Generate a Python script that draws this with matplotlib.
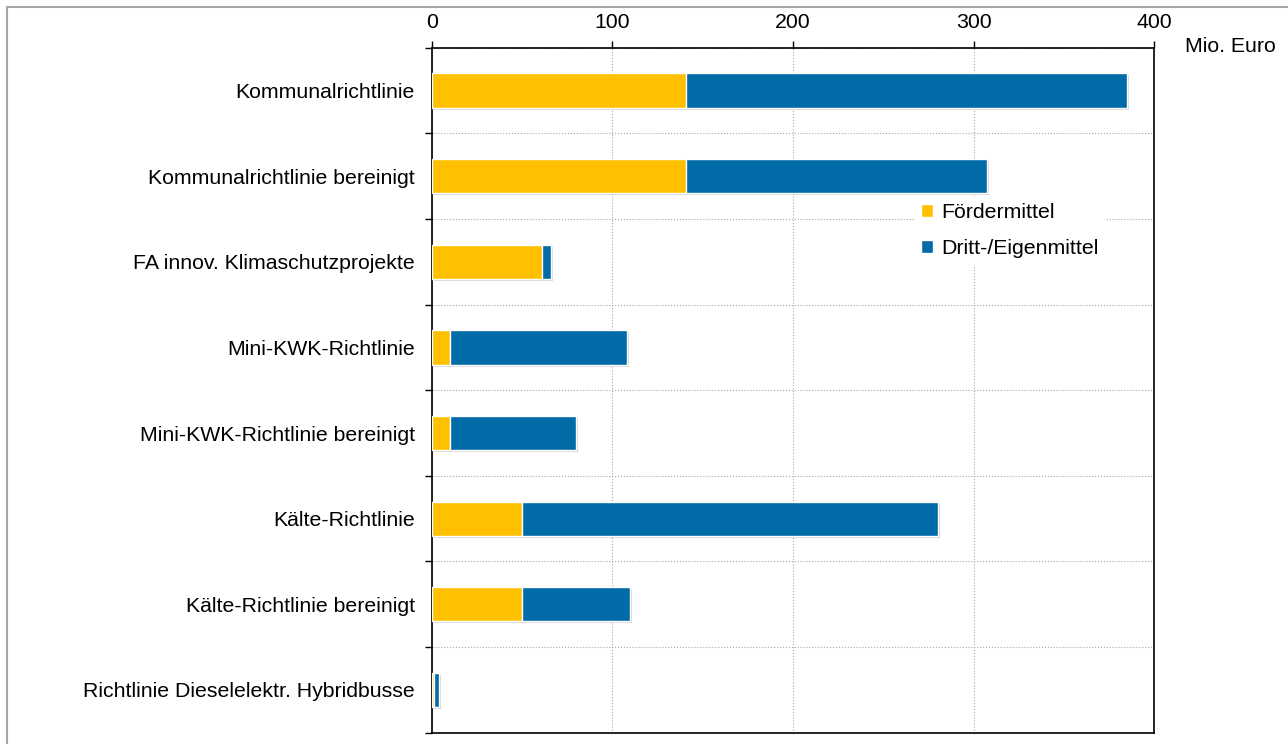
import matplotlib
matplotlib.use("Agg")
import matplotlib.pyplot as plt
import matplotlib.patheffects as pe
from matplotlib.patches import Rectangle

plt.rcParams['font.family'] = ['Liberation Sans', 'DejaVu Sans']

categories = [
    "Kommunalrichtlinie",
    "Kommunalrichtlinie bereinigt",
    "FA innov. Klimaschutzprojekte",
    "Mini-KWK-Richtlinie",
    "Mini-KWK-Richtlinie bereinigt",
    "Kälte-Richtlinie",
    "Kälte-Richtlinie bereinigt",
    "Richtlinie Dieselelektr. Hybridbusse",
]
foerdermittel = [140.5, 140.5, 61, 10, 10, 50, 50, 1.2]
eigenmittel = [244.5, 167, 5, 98, 70, 230, 59.5, 2.8]
x_ticks = [0, 100, 200, 300, 400]

yellow = "#FFC000"
blue = "#006BA6"
fs = 15.3

fig = plt.figure(figsize=(12.88, 7.44), dpi=100)
ax = fig.add_axes([0.3352, 0.0152, 0.561, 0.9207])

# outer frame
fig.patches.append(Rectangle((7 / 1288, -0.1), 1.2, 1.1 - 7 / 744,
                             transform=fig.transFigure, fill=False,
                             edgecolor="#A6A6A6", linewidth=1.5, zorder=0))

y = list(range(len(categories)))
shadow = [pe.SimplePatchShadow(offset=(1.5, -1.5), shadow_rgbFace="#BBBBBB", alpha=0.6), pe.Normal()]
b1 = ax.barh(y, foerdermittel, height=0.4, color=yellow, edgecolor="white",
             linewidth=1, label="Fördermittel", zorder=3)
b2 = ax.barh(y, eigenmittel, left=foerdermittel, height=0.4, color=blue,
             edgecolor="white", linewidth=1, label="Dritt-/Eigenmittel", zorder=3)
for bar in list(b1) + list(b2):
    bar.set_path_effects(shadow)

ax.set_ylim(len(categories) - 0.5, -0.5)
ax.set_xlim(0, 400)
ax.set_yticks(y)
ax.set_yticklabels(categories, fontsize=fs)
ax.tick_params(axis="y", length=0, pad=12)
ax.set_yticks([i + 0.5 for i in range(-1, len(categories))], minor=True)
ax.tick_params(axis="y", which="minor", length=5, direction="out", width=1)

ax.xaxis.tick_top()
ax.set_xticks(x_ticks)
ax.set_xticklabels([str(v) for v in x_ticks], fontsize=fs)
ax.tick_params(axis="x", length=5, direction="out", pad=6.5, width=1)

ax.grid(True, axis="x", which="major", color="#A8A8A8", linestyle=":", linewidth=0.8, zorder=0)
ax.grid(True, axis="y", which="minor", color="#A8A8A8", linestyle=":", linewidth=0.8, zorder=0)
ax.set_axisbelow(True)
for s in ax.spines.values():
    s.set_color("black")
    s.set_linewidth(1.2)

fig.text(1185 / 1288, 1 - 46 / 744, "Mio. Euro", fontsize=fs, ha="left", va="center")

leg = ax.legend(loc="upper left", bbox_to_anchor=((915 - 431.7) / 722.6, 1 - (197 - 47.7) / 685),
                frameon=True, fancybox=False, edgecolor="none", facecolor="white",
                framealpha=1, fontsize=fs, handlelength=0.55, handleheight=0.55,
                handletextpad=0.4, borderpad=0.3, labelspacing=0.8, borderaxespad=0)
for h in leg.legend_handles:
    h.set_path_effects([])

fig.savefig("out.png", dpi=100)
